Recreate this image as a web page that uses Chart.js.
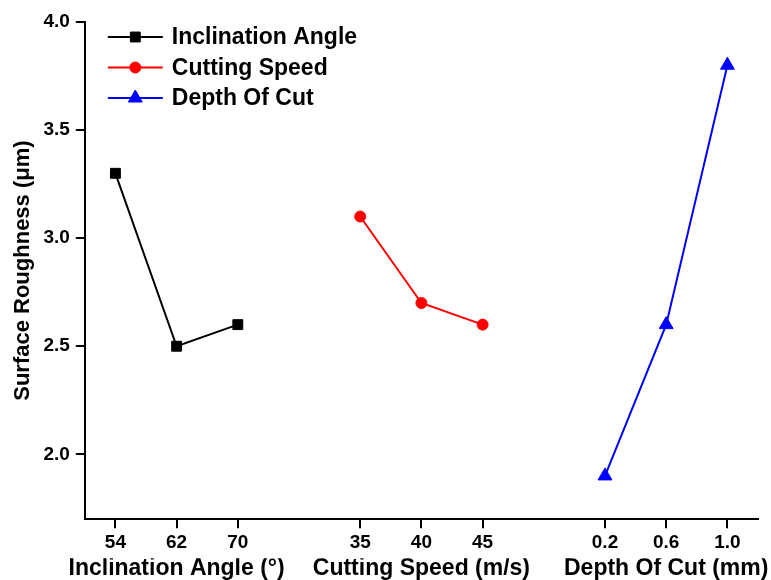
<!DOCTYPE html>
<html>
<head>
<meta charset="utf-8">
<script src="https://cdn.jsdelivr.net/npm/chart.js@4/dist/chart.umd.min.js"></script>
<style>
  html, body { margin: 0; padding: 0; background: #fff; }
  #wrap { width: 771px; height: 580px; }
</style>
</head>
<body>
<div id="wrap"><canvas id="roughChart"></canvas></div>
<script>
// categories on the shared x axis (blank slots separate the three groups)
var tickLabels = ['54', '62', '70', '', '35', '40', '45', '', '0.2', '0.6', '1.0'];
var groupTitles = ['', 'Inclination Angle (°)', '', '', '', 'Cutting Speed (m/s)', '', '', '', 'Depth Of Cut (mm)', ''];

// surface roughness values (μm), null where the series has no point
var inclinationAngle = [3.3, 2.5, 2.6, null, null, null, null, null, null, null, null];
var cuttingSpeed     = [null, null, null, null, 3.1, 2.7, 2.6, null, null, null, null];
var depthOfCut       = [null, null, null, null, null, null, null, null, 1.9, 2.6, 3.8];

var FONT = 'Liberation Sans, Arial, sans-serif';

// legend drawn inside the plot, line + marker like the original
var insideLegend = {
  id: 'insideLegend',
  afterDraw: function (chart) {
    var ctx = chart.ctx;
    var area = chart.chartArea;
    var x0 = area.left + 23, y0 = area.top + 15, gap = 30.5;
    ctx.save();
    chart.data.datasets.forEach(function (ds, i) {
      var y = y0 + i * gap;
      ctx.strokeStyle = ds.borderColor;
      ctx.lineWidth = ds.borderWidth;
      ctx.beginPath();
      ctx.moveTo(x0, y);
      ctx.lineTo(x0 + 55, y);
      ctx.stroke();
      ctx.fillStyle = ds.pointBackgroundColor;
      ctx.strokeStyle = ds.borderColor;
      ctx.lineWidth = 1;
      Chart.helpers.drawPoint(ctx, {
        pointStyle: ds.pointStyle, radius: ds.pointRadius, borderWidth: 1
      }, x0 + 27.5, y);
      ctx.fillStyle = '#000';
      ctx.font = 'bold 23px ' + FONT;
      ctx.textBaseline = 'middle';
      ctx.textAlign = 'left';
      ctx.fillText(ds.label, x0 + 64, y + 1);
    });
    ctx.restore();
  }
};

var ctr = document.getElementById('roughChart').getContext('2d');
var chart = new Chart(ctr, {
    type: 'line',
    data: {
        labels: tickLabels,
        datasets: [{
            label: 'Inclination Angle',
            data: inclinationAngle,
            borderColor: '#000000',
            pointBackgroundColor: '#000000',
            borderWidth: 2,
            pointStyle: 'rect',
            pointRadius: 7,
            pointBorderWidth: 1
        }, {
            label: 'Cutting Speed',
            data: cuttingSpeed,
            borderColor: '#ff0000',
            pointBackgroundColor: '#ff0000',
            borderWidth: 2,
            pointStyle: 'circle',
            pointRadius: 5.5,
            pointBorderWidth: 1
        }, {
            label: 'Depth Of Cut',
            data: depthOfCut,
            borderColor: '#0000ff',
            pointBackgroundColor: '#0000ff',
            borderWidth: 2,
            pointStyle: 'triangle',
            pointRadius: 8,
            pointBorderWidth: 1
        }]
    },
    options: {
      responsive: true,
      maintainAspectRatio: false,
      animation: false,
      spanGaps: false,
      layout: { padding: { left: 6, right: 13, top: 22, bottom: 0 } },
      plugins: {
        legend: { display: false },
        tooltip: { enabled: false }
      },
      scales: {
        x: {
          type: 'category',
          offset: true,
          weight: 0,
          border: { color: '#000', width: 2 },
          grid: {
            offset: false,
            drawOnChartArea: false,
            tickLength: 9,
            lineWidth: 2,
            tickColor: function (c) { return tickLabels[c.index] ? '#000' : 'rgba(0,0,0,0)'; }
          },
          ticks: {
            autoSkip: false, maxRotation: 0, padding: 5.5, color: '#000',
            font: { family: FONT, size: 19, weight: 'bold', lineHeight: 1.0 }
          }
        },
        x2: {
          type: 'category',
          position: 'bottom',
          labels: groupTitles,
          offset: true,
          weight: 1,
          border: { display: false },
          grid: { display: false, drawTicks: false },
          ticks: {
            autoSkip: false, maxRotation: 0, padding: 0, color: '#000',
            font: { family: FONT, size: 23, weight: 'bold', lineHeight: 0.95 }
          }
        },
        y: {
          min: 1.7,
          max: 4.0,
          border: { color: '#000', width: 2 },
          grid: { drawOnChartArea: false, tickLength: 9, lineWidth: 2, color: '#000' },
          ticks: {
            stepSize: 0.5, includeBounds: false, padding: 6, color: '#000',
            font: { family: FONT, size: 19, weight: 'bold' },
            callback: function (v) { return v.toFixed(1); }
          },
          title: {
            display: true, text: 'Surface Roughness (μm)', color: '#000',
            padding: { top: 4, bottom: 1 },
            font: { family: FONT, size: 22, weight: 'bold' }
          }
        }
      }
    },
    plugins: [insideLegend]
});
</script>
</body>
</html>
